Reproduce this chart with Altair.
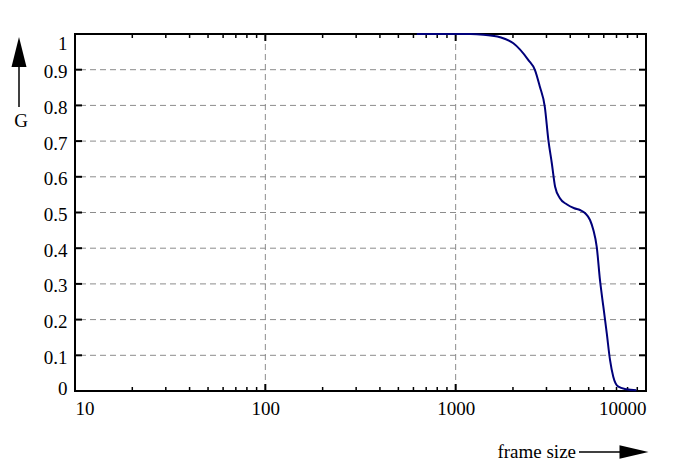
import altair as alt
import pandas as pd

# curve
frame_size = [625, 800, 1000, 1200, 1400, 1710, 2010, 2410, 2610, 2770, 2940,
              3070, 3200, 3330, 3530, 3830, 4200, 4500, 4790, 5080, 5290, 5510,
              5730, 5970, 6220, 6470, 6730, 7160, 7900, 8900]
g_value = [1.0, 1.0, 1.0, 1.0, 0.998, 0.991, 0.974, 0.927, 0.899, 0.852, 0.796,
           0.703, 0.638, 0.572, 0.540, 0.523, 0.512, 0.507, 0.498, 0.479, 0.451,
           0.404, 0.311, 0.236, 0.162, 0.087, 0.040, 0.012, 0.005, 0.002]

x_labels = [10, 100, 1000, 10000]
x_grid = [100, 1000]
x_minor = [20, 30, 40, 50, 60, 70, 80, 90,
           200, 300, 400, 500, 600, 700, 800, 900,
           2000, 3000, 4000, 5000, 6000, 7000, 8000, 9000]
y_ticks = [0, 0.1, 0.2, 0.3, 0.4, 0.5, 0.6, 0.7, 0.8, 0.9, 1]
y_grid = [0.1, 0.2, 0.3, 0.4, 0.5, 0.6, 0.7, 0.8, 0.9]

W, H = 571, 357
FONT = "Liberation Serif"
FS = 19
GRID = "#8c8c8c"

df = pd.DataFrame({"frame": frame_size, "G": g_value})
x_scale = alt.Scale(type="log", domain=[10, 10000])
y_scale = alt.Scale(domain=[0, 1])


def xvals(vals):
    return alt.Chart(pd.DataFrame({"v": vals}))


# dashed grid
grid_x = xvals(x_grid).mark_rule(color=GRID, strokeDash=[6, 4], strokeWidth=1).encode(
    x=alt.X("v:Q", scale=x_scale, axis=None)
)
grid_y = xvals(y_grid).mark_rule(color=GRID, strokeDash=[6, 4], strokeWidth=1).encode(
    y=alt.Y("v:Q", scale=y_scale, axis=None)
)


# inward ticks on all four sides
def x_ticks(vals, size, width):
    bottom = xvals(vals).mark_rule(color="black", strokeWidth=width).encode(
        x=alt.X("v:Q", scale=x_scale, axis=None), y=alt.value(H), y2=alt.value(H - size)
    )
    top = xvals(vals).mark_rule(color="black", strokeWidth=width).encode(
        x=alt.X("v:Q", scale=x_scale, axis=None), y=alt.value(0), y2=alt.value(size)
    )
    return [bottom, top]


def y_ticks_layer(vals, size, width):
    left = xvals(vals).mark_rule(color="black", strokeWidth=width).encode(
        y=alt.Y("v:Q", scale=y_scale, axis=None), x=alt.value(0), x2=alt.value(size)
    )
    right = xvals(vals).mark_rule(color="black", strokeWidth=width).encode(
        y=alt.Y("v:Q", scale=y_scale, axis=None), x=alt.value(W), x2=alt.value(W - size)
    )
    return [left, right]


curve = alt.Chart(df).mark_line(color="#00007a", strokeWidth=2, interpolate="monotone").encode(
    x=alt.X("frame:Q", scale=x_scale,
            axis=alt.Axis(orient="bottom", values=x_labels, format="d", labelFlush=True,
                          labelPadding=8, ticks=False, domain=False, grid=False, title=None)),
    y=alt.Y("G:Q", scale=y_scale,
            axis=alt.Axis(orient="left", values=y_ticks, format="~g", labelPadding=8,
                          ticks=False, domain=False, grid=False, title=None,
                          labelOffset={"condition": [
                              {"test": "datum.value == 1", "value": 9},
                              {"test": "datum.value == 0", "value": -3}],
                              "value": 2})),
)

# axis titles with arrows
one = pd.DataFrame({"t": ["G"]})
g_title = alt.Chart(one).mark_text(font=FONT, fontSize=FS, color="black").encode(
    x=alt.value(-54), y=alt.value(87), text="t:N"
)
g_line = alt.Chart(one).mark_rule(color="black", strokeWidth=1.5).encode(
    x=alt.value(-56), y=alt.value(26), y2=alt.value(73)
)
g_head = alt.Chart(one).mark_point(
    shape="M0,-1L0.5,1L-0.5,1Z", size=900, filled=True, color="black", opacity=1
).encode(x=alt.value(-56), y=alt.value(18))

x_title = alt.Chart(pd.DataFrame({"t": ["frame size"]})).mark_text(
    font=FONT, fontSize=FS, color="black", align="right"
).encode(x=alt.value(501), y=alt.value(418), text="t:N")
x_line = alt.Chart(one).mark_rule(color="black", strokeWidth=1.5).encode(
    x=alt.value(504), x2=alt.value(550), y=alt.value(418)
)
x_head = alt.Chart(one).mark_point(
    shape="M1,0L-1,-0.46L-1,0.46Z", size=841, filled=True, color="black", opacity=1
).encode(x=alt.value(559), y=alt.value(418))

layers = ([grid_x, grid_y] + x_ticks(x_labels, 7, 2) + x_ticks(x_minor, 4, 1.5)
          + y_ticks_layer(y_ticks, 7, 2)
          + [curve, g_title, g_line, g_head, x_title, x_line, x_head])

chart = (
    alt.layer(*layers)
    .resolve_axis(x="independent", y="independent")
    .properties(
        width=W,
        height=H,
        autosize=alt.AutoSizeParams(type="none"),
        padding={"left": 67, "top": 26, "right": 40, "bottom": 70},
        background="white",
    )
    .configure_view(stroke="black", strokeWidth=2)
    .configure_axis(labelFont=FONT, labelFontSize=FS, labelColor="black")
)

chart.save("out.html", embed_options={"renderer": "svg", "actions": False})
